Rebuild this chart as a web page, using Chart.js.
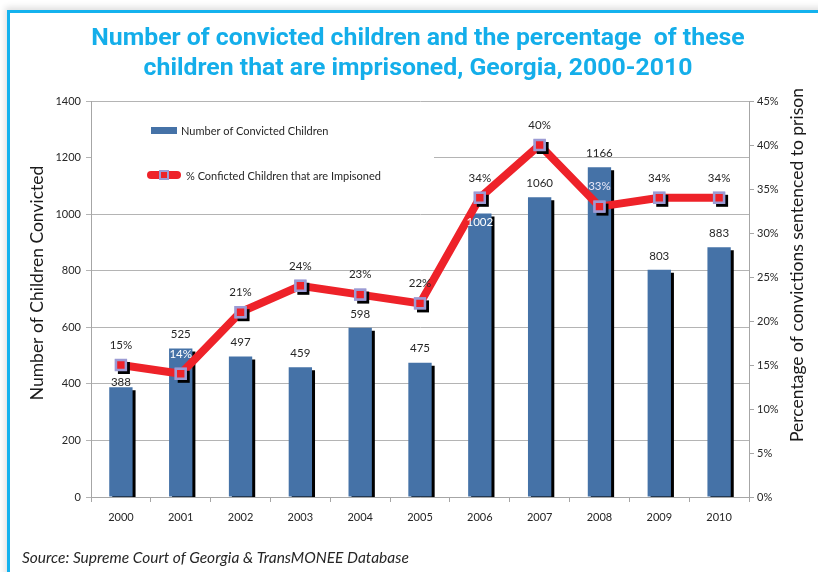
<!DOCTYPE html>
<html>
<head>
<meta charset="utf-8">
<script src="https://cdn.jsdelivr.net/npm/chart.js@4.4.0/dist/chart.umd.min.js"></script>
<style>
  html, body { margin: 0; padding: 0; background: #fff; }
  #wrap { position: relative; width: 818px; height: 572px; overflow: hidden; }
  #frame {
    position: absolute; left: 7px; top: 10px; width: 830px; height: 600px;
    border-left: 3px solid #14b2ee; border-top: 3px solid #14b2ee;
    box-shadow: -2px -3px 6px rgba(0,0,0,0.12);
  }
  #chart { position: absolute; left: 0; top: 0; }
</style>
</head>
<body>
<div id="wrap">
  <div id="frame"></div>
  <canvas id="chart" width="818" height="572"></canvas>
</div>
<script>
// ---- data ----
const years = ["2000", "2001", "2002", "2003", "2004", "2005", "2006", "2007", "2008", "2009", "2010"];
const convicted = [388, 525, 497, 459, 598, 475, 1002, 1060, 1166, 803, 883];
const imprisonedPct = [15, 14, 21, 24, 23, 22, 34, 40, 33, 34, 34];
const leftTicks = [0, 200, 400, 600, 800, 1000, 1200, 1400];
const rightTicks = [0, 5, 10, 15, 20, 25, 30, 35, 40, 45];

// label placement tweaks (like the excel chart)
const barLabelDy = [-5, -14, -14, -14, -14, -14, 9, -14, -14, -14, -14];
const barLabelColor = ["#262626", "#262626", "#262626", "#262626", "#262626", "#262626", "#fff", "#262626", "#262626", "#262626", "#262626"];
const pctLabelColor = ["#262626", "#fff", "#262626", "#262626", "#262626", "#262626", "#262626", "#262626", "#e8e8f8", "#262626", "#262626"];

const BLUE = "#4572a7";
const RED = "#ee2229";
const LAVENDER = "#9c9bd4";
const GRID = "#b4b4b4";
const AXIS = "#a6a6a6";
const FONT = "Lato, 'Open Sans', sans-serif";

// black drop shadow for bars and markers
const shadowPlugin = {
  id: "dropShadow",
  beforeDatasetDraw(chart, args) {
    if (!chart.data.datasets[args.index].dropShadow) return;
    const ctx = chart.ctx;
    ctx.save();
    ctx.shadowColor = "#000";
    ctx.shadowOffsetX = 3;
    ctx.shadowOffsetY = 3;
    ctx.shadowBlur = 0;
  },
  afterDatasetDraw(chart, args) {
    if (!chart.data.datasets[args.index].dropShadow) return;
    chart.ctx.restore();
  }
};

// legend box inside the plot, covering the gridlines
const legendPlugin = {
  id: "boxLegend",
  beforeDatasetsDraw(chart) {
    const ctx = chart.ctx;
    ctx.save();
    ctx.fillStyle = "#fff";
    ctx.fillRect(92, 112, 342, 86);
    ctx.fillStyle = BLUE;
    ctx.fillRect(151, 127, 26, 7);
    ctx.strokeStyle = RED;
    ctx.lineWidth = 8;
    ctx.lineCap = "round";
    ctx.beginPath();
    ctx.moveTo(151, 175);
    ctx.lineTo(177, 175);
    ctx.stroke();
    ctx.fillStyle = RED;
    ctx.strokeStyle = LAVENDER;
    ctx.lineWidth = 2;
    ctx.fillRect(160, 171, 8, 8);
    ctx.strokeRect(160, 171, 8, 8);
    ctx.fillStyle = "#262626";
    ctx.font = "11px " + FONT;
    ctx.textBaseline = "middle";
    ctx.fillText("Number of Convicted Children", 181, 131);
    ctx.fillText("% Conficted Children that are Impisoned", 186, 176);
    ctx.restore();
  }
};

// value labels, axis titles, source line
const labelPlugin = {
  id: "valueLabels",
  afterDatasetsDraw(chart) {
    const ctx = chart.ctx;
    ctx.save();
    ctx.font = "11.5px " + FONT;
    ctx.textAlign = "center";
    ctx.textBaseline = "middle";
    chart.getDatasetMeta(0).data.forEach((bar, i) => {
      ctx.fillStyle = barLabelColor[i];
      ctx.fillText(String(convicted[i]), bar.x, bar.y + barLabelDy[i]);
    });
    chart.getDatasetMeta(3).data.forEach((pt, i) => {
      ctx.fillStyle = pctLabelColor[i];
      ctx.fillText(imprisonedPct[i] + "%", pt.x, pt.y - 20);
    });

    ctx.fillStyle = "#1a1a1a";
    ctx.font = "17.5px " + FONT;
    ctx.save();
    ctx.translate(37, 283);
    ctx.rotate(-Math.PI / 2);
    ctx.fillText("Number of Children Convicted", 0, 0);
    ctx.restore();
    ctx.save();
    ctx.translate(797, 265);
    ctx.rotate(-Math.PI / 2);
    ctx.fillText("Percentage of convictions sentenced to prison", 0, 0);
    ctx.restore();

    ctx.textAlign = "left";
    ctx.fillStyle = "#262626";
    ctx.font = "italic 15.5px " + FONT;
    ctx.fillText("Source: Supreme Court of Georgia & TransMONEE Database", 22, 558);
    ctx.restore();
  }
};

new Chart(document.getElementById("chart"), {
  type: "bar",
  data: {
    labels: years,
    datasets: [
      {
        type: "bar",
        label: "Number of Convicted Children",
        data: convicted,
        yAxisID: "y",
        backgroundColor: BLUE,
        categoryPercentage: 1,
        barPercentage: 0.39,
        clip: 0,
        dropShadow: true,
        order: 4
      },
      {
        type: "line",
        label: "% Conficted Children that are Impisoned",
        data: imprisonedPct,
        yAxisID: "y2",
        borderColor: RED,
        borderWidth: 8,
        pointRadius: 0,
        tension: 0,
        order: 3
      },
      {
        // marker shadows
        type: "line",
        label: "marker shadow",
        data: imprisonedPct,
        yAxisID: "y2",
        showLine: false,
        pointStyle: "rect",
        pointRadius: 8.5,
        pointBackgroundColor: LAVENDER,
        pointBorderWidth: 0,
        dropShadow: true,
        clip: false,
        order: 2
      },
      {
        type: "line",
        label: "markers",
        data: imprisonedPct,
        yAxisID: "y2",
        showLine: false,
        pointStyle: "rect",
        pointRadius: 7,
        pointBackgroundColor: RED,
        pointBorderColor: LAVENDER,
        pointBorderWidth: 2.5,
        clip: false,
        order: 1
      }
    ]
  },
  options: {
    responsive: false,
    animation: false,
    layout: { padding: { left: 18, right: 0, top: 0, bottom: 45 } },
    plugins: {
      legend: { display: false },
      tooltip: { enabled: false },
      title: {
        display: true,
        text: ["Number of convicted children and the percentage  of these",
               "children that are imprisoned, Georgia, 2000-2010"],
        color: "#14aeea",
        font: { family: "'Liberation Sans Narrow', 'Roboto', sans-serif", size: 24.8, weight: "bold", lineHeight: "30px" },
        padding: { top: 24, bottom: 17 }
      }
    },
    scales: {
      x: {
        grid: { display: true, drawOnChartArea: false, offset: true, tickLength: 5, color: AXIS },
        border: { color: AXIS },
        ticks: { color: "#262626", font: { family: FONT, size: 11 }, padding: 9 },
        afterFit: s => { s.height = 30; }
      },
      y: {
        position: "left",
        min: 0,
        max: 1400,
        afterBuildTicks: s => { s.ticks = leftTicks.map(v => ({ value: v })); },
        grid: { color: GRID, tickLength: 5 },
        border: { color: AXIS },
        ticks: { color: "#262626", font: { family: FONT, size: 11 }, padding: 5, callback: v => String(v) },
        afterFit: s => { s.width = 73; }
      },
      y2: {
        position: "right",
        min: 0,
        max: 45,
        afterBuildTicks: s => { s.ticks = rightTicks.map(v => ({ value: v })); },
        grid: { drawOnChartArea: false, color: AXIS, tickLength: 5 },
        border: { color: AXIS },
        ticks: { color: "#262626", font: { family: FONT, size: 11 }, padding: 3, callback: v => v + "%" },
        afterFit: s => { s.width = 69; }
      }
    }
  },
  plugins: [shadowPlugin, legendPlugin, labelPlugin]
});
</script>
</body>
</html>
